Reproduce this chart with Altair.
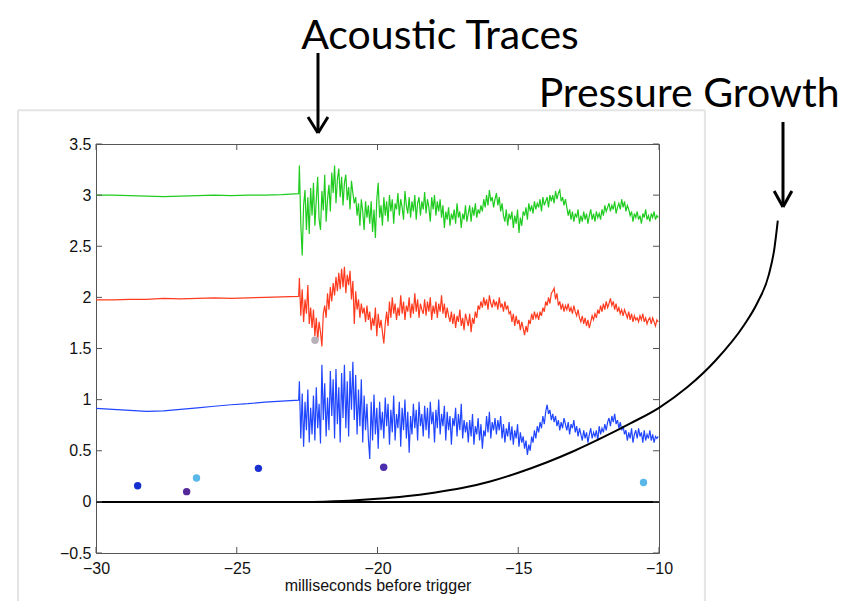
import altair as alt
import pandas as pd

# ---------------- data ----------------
quiet_x = [-30.0, -29.4, -28.8, -28.2, -27.6, -27.0, -26.4, -25.8, -25.2, -24.6, -24.0, -23.4, -22.8]
green_quiet = [3.00, 3.00, 2.995, 2.99, 2.985, 2.99, 2.995, 3.00, 2.995, 3.00, 3.00, 3.005, 3.015]
red_quiet = [1.975, 1.975, 1.98, 1.98, 1.99, 1.985, 1.99, 1.995, 1.99, 1.995, 2.00, 2.005, 2.01]
blue_quiet = [0.915, 0.905, 0.895, 0.885, 0.89, 0.905, 0.92, 0.935, 0.95, 0.96, 0.975, 0.985, 0.995]

# sample times of the noisy part (every 0.05 ms)
noisy_x = [round(-22.775 + 0.05 * k, 3) for k in range(256)]

green_noisy = [
    3.29, 2.72, 2.41, 2.90, 3.05, 2.66, 2.98, 2.62, 3.07, 2.80,
    3.12, 2.70, 2.95, 3.18, 2.76, 2.66, 3.04, 2.85, 3.20, 2.74,
    2.96, 3.10, 2.84, 3.22, 3.02, 3.29, 2.92, 3.15, 3.26, 2.98,
    3.18, 2.90, 3.12, 3.20, 2.95, 3.08, 2.86, 3.14, 3.02, 2.92,
    2.98, 2.80, 2.92, 2.70, 2.96, 2.84, 2.66, 2.94, 2.78, 2.90,
    2.72, 2.94, 2.64, 2.86, 2.58, 2.96, 3.12, 2.78, 2.90, 2.70,
    2.98, 2.80, 2.94, 2.74, 3.00, 2.84, 2.96, 2.72, 2.92, 2.86,
    3.02, 2.80, 2.96, 2.88, 2.76, 3.04, 2.90, 2.82, 2.98, 2.78,
    2.94, 2.84, 3.00, 2.76, 2.92, 2.98, 2.80, 2.94, 2.86, 3.03,
    2.82, 2.96, 2.88, 2.74, 2.98, 2.86, 3.00, 2.80, 2.94, 2.84,
    2.96, 2.78, 2.90, 2.68, 2.84, 2.76, 2.88, 2.70, 2.82, 2.76,
    2.86, 2.72, 2.92, 2.78, 2.84, 2.68, 2.82, 2.76, 2.90, 2.74,
    2.82, 2.90, 2.74, 2.88, 2.80, 2.92, 2.78, 2.86, 2.82, 2.90,
    2.84, 2.96, 2.88, 3.00, 2.90, 3.05, 2.94, 2.98, 2.88, 2.96,
    3.02, 2.90, 2.98, 2.84, 2.92, 2.80, 2.74, 2.86, 2.70, 2.82,
    2.76, 2.84, 2.68, 2.80, 2.72, 2.86, 2.63, 2.78, 2.70, 2.84,
    2.80, 2.88, 2.76, 2.92, 2.84, 2.90, 2.82, 2.94, 2.86, 2.92,
    2.88, 2.96, 2.84, 2.98, 2.90, 2.94, 2.98, 2.88, 3.00, 2.94,
    3.00, 2.92, 3.04, 2.96, 3.02, 3.05, 2.94, 2.98, 2.90, 2.96,
    2.88, 2.80, 2.86, 2.76, 2.84, 2.74, 2.82, 2.78, 2.86, 2.72,
    2.80, 2.74, 2.84, 2.76, 2.82, 2.72, 2.80, 2.86, 2.76, 2.82,
    2.74, 2.84, 2.78, 2.82, 2.76, 2.86, 2.80, 2.90, 2.84, 2.88,
    2.92, 2.84, 2.90, 2.86, 2.94, 2.82, 2.88, 2.92, 2.86, 2.96,
    2.88, 2.94, 2.84, 2.90, 2.86, 2.80, 2.84, 2.74, 2.82, 2.78,
    2.84, 2.76, 2.80, 2.72, 2.82, 2.78, 2.86, 2.76, 2.80, 2.74,
    2.82, 2.78, 2.84, 2.76, 2.80, 2.78,
]
red_noisy = [
    2.19, 1.82, 2.08, 1.76, 1.98, 1.84, 2.12, 1.74, 1.90, 1.70,
    1.88, 1.62, 1.80, 1.58, 1.76, 1.66, 1.52, 1.84, 1.92, 1.80,
    2.04, 1.88, 2.10, 1.96, 2.14, 2.02, 2.20, 2.06, 2.24, 2.08,
    2.28, 2.10, 2.30, 2.04, 2.22, 2.12, 2.26, 1.98, 2.16, 1.74,
    2.06, 1.88, 1.98, 1.80, 1.94, 1.84, 1.90, 1.76, 1.92, 1.78,
    1.86, 1.68, 1.80, 1.72, 1.90, 1.62, 1.84, 1.70, 1.78, 1.66,
    1.55, 1.74, 1.86, 1.72, 1.96, 1.80, 2.00, 1.84, 1.94, 1.78,
    1.90, 1.82, 2.02, 1.84, 1.96, 1.78, 1.92, 1.86, 2.00, 1.80,
    1.94, 1.84, 2.04, 1.86, 1.98, 1.80, 1.94, 1.88, 1.84, 1.98,
    1.82, 1.96, 1.86, 2.00, 1.78, 1.92, 1.84, 1.96, 1.80, 1.94,
    1.86, 2.02, 1.84, 1.94, 1.80, 1.90, 1.82, 1.76, 1.86, 1.74,
    1.84, 1.70, 1.82, 1.76, 1.88, 1.72, 1.80, 1.68, 1.84, 1.78,
    1.72, 1.84, 1.66, 1.80, 1.74, 1.86, 1.80, 1.92, 1.88, 1.96,
    1.90, 2.00, 1.92, 1.98, 1.88, 2.02, 1.94, 1.90, 1.98, 1.92,
    1.96, 1.88, 2.00, 1.90, 1.94, 1.86, 1.96, 1.88, 1.92, 1.84,
    1.86, 1.76, 1.84, 1.72, 1.82, 1.74, 1.78, 1.68, 1.76, 1.70,
    1.63, 1.72, 1.66, 1.78, 1.74, 1.84, 1.78, 1.86, 1.80, 1.84,
    1.78, 1.86, 1.82, 1.90, 1.86, 1.96, 1.92, 2.00, 1.94, 2.04,
    2.06, 2.09, 1.98, 2.04, 1.92, 1.96, 1.88, 1.94, 1.86, 1.92,
    1.88, 1.94, 1.86, 1.90, 1.84, 1.92, 1.86, 1.82, 1.88, 1.80,
    1.76, 1.82, 1.74, 1.80, 1.72, 1.78, 1.70, 1.76, 1.82, 1.78,
    1.84, 1.80, 1.88, 1.84, 1.92, 1.86, 1.94, 1.88, 1.96, 1.90,
    1.94, 1.99, 1.92, 1.96, 1.88, 1.94, 1.86, 1.90, 1.84, 1.88,
    1.82, 1.88, 1.84, 1.80, 1.86, 1.78, 1.84, 1.76, 1.82, 1.78,
    1.80, 1.76, 1.82, 1.78, 1.84, 1.76, 1.80, 1.74, 1.78, 1.80,
    1.74, 1.80, 1.76, 1.72, 1.78, 1.76,
]
blue_noisy = [
    1.18, 0.62, 1.06, 0.54, 0.98, 0.70, 1.10, 0.58, 0.92, 0.66,
    1.04, 0.60, 1.12, 0.72, 0.96, 0.57, 1.34, 0.80, 1.16, 0.64,
    1.02, 0.70, 1.28, 0.84, 1.20, 0.62, 1.30, 0.76, 1.12, 0.58,
    1.26, 0.82, 1.34, 0.72, 1.18, 0.64, 1.28, 0.90, 1.37, 0.80,
    1.24, 0.66, 1.10, 0.74, 1.20, 0.58, 1.04, 0.70, 0.96, 0.62,
    0.42, 0.98, 0.60, 1.05, 0.66, 0.92, 0.52, 0.98, 0.70, 0.88,
    0.62, 1.02, 0.74, 0.96, 0.56, 0.90, 0.68, 1.04, 0.60, 0.86,
    0.72, 0.98, 0.54, 0.92, 0.70, 1.00, 0.62, 0.88, 0.48, 0.84,
    0.66, 0.96, 0.72, 0.90, 0.60, 0.98, 0.74, 0.86, 0.64, 0.94,
    0.70, 0.92, 0.62, 0.98, 0.76, 0.88, 0.58, 0.90, 0.72, 1.00,
    0.66, 0.86, 0.74, 0.94, 0.60, 0.88, 0.70, 0.84, 0.56, 0.82,
    0.74, 0.92, 0.64, 0.86, 0.70, 0.96, 0.62, 0.80, 0.68, 0.78,
    0.58, 0.80, 0.64, 0.86, 0.56, 0.74, 0.66, 0.82, 0.60, 0.76,
    0.52, 0.70, 0.64, 0.84, 0.68, 0.88, 0.62, 0.78, 0.70, 0.82,
    0.66, 0.80, 0.70, 0.84, 0.62, 0.76, 0.58, 0.72, 0.64, 0.78,
    0.60, 0.74, 0.56, 0.70, 0.62, 0.76, 0.54, 0.68, 0.58, 0.64,
    0.52, 0.60, 0.46, 0.56, 0.50, 0.64, 0.58, 0.70, 0.62, 0.74,
    0.68, 0.78, 0.72, 0.84, 0.76, 0.88, 0.95, 0.86, 0.90, 0.80,
    0.86, 0.78, 0.84, 0.74, 0.80, 0.70, 0.78, 0.72, 0.82, 0.76,
    0.70, 0.78, 0.66, 0.76, 0.72, 0.80, 0.68, 0.74, 0.64, 0.72,
    0.66, 0.60, 0.70, 0.62, 0.68, 0.58, 0.66, 0.72, 0.62, 0.68,
    0.64, 0.70, 0.60, 0.74, 0.66, 0.72, 0.68, 0.76, 0.70, 0.78,
    0.82, 0.74, 0.84, 0.78, 0.86, 0.76, 0.80, 0.72, 0.78, 0.70,
    0.74, 0.66, 0.70, 0.60, 0.68, 0.62, 0.72, 0.58, 0.66, 0.70,
    0.62, 0.72, 0.64, 0.68, 0.58, 0.70, 0.60, 0.66, 0.62, 0.70,
    0.60, 0.66, 0.58, 0.64, 0.62, 0.64,
]

# scattered events
event_x = [-28.52, -26.78, -26.43, -24.23, -19.78, -10.55, -22.22]
event_y = [0.158, 0.10, 0.233, 0.328, 0.338, 0.19, 1.58]
event_color = ["#1530d0", "#55289a", "#5ab8e8", "#1a30d0", "#4b2db0", "#5ab8e8", "#b8b0b8"]

# pressure growth curve
pressure_x = [-22.3, -21.0, -20.0, -19.0, -18.0, -17.0, -16.0, -15.0, -14.0, -13.0, -12.0,
              -11.0, -10.0, -9.0, -8.0, -7.0, -6.5, -6.1, -5.9, -5.78]
pressure_y = [0.0, 0.012, 0.03, 0.055, 0.09, 0.135, 0.20, 0.285, 0.385, 0.50, 0.63,
              0.77, 0.92, 1.12, 1.38, 1.72, 1.95, 2.22, 2.48, 2.75]

x_ticks = [-30, -25, -20, -15, -10]
y_ticks = [-0.5, 0, 0.5, 1, 1.5, 2, 2.5, 3, 3.5]

series_names = ["green", "red", "blue"]
series_colors = ["#1fcc1f", "#ff3b1f", "#2046ff"]

# annotations (data coordinates)
labels = ["Acoustic Traces", "Pressure Growth"]
label_x = [-17.78, -8.93]
label_y = [4.43, 3.86]

# ---------------- tables ----------------
rows = []
for name, q, n in zip(series_names, [green_quiet, red_quiet, blue_quiet],
                      [green_noisy, red_noisy, blue_noisy]):
    xs_ = quiet_x + noisy_x
    ys_ = q + n
    for i, (a, b) in enumerate(zip(xs_, ys_)):
        rows.append({"t": a, "v": b, "series": name, "o": i})
traces = pd.DataFrame(rows)

events = pd.DataFrame({"t": event_x, "v": event_y, "c": event_color})
pressure = pd.DataFrame({"t": pressure_x, "v": pressure_y, "o": list(range(len(pressure_x)))})

arrows = pd.DataFrame({
    "x": [-22.114, -22.47, -21.76, -5.595, -5.91, -5.28],
    "x2": [-22.114, -22.114, -22.114, -5.595, -5.595, -5.595],
    "y": [4.39, 3.764, 3.764, 3.715, 3.04, 3.04],
    "y2": [3.608, 3.608, 3.608, 2.884, 2.884, 2.884],
})
shadow = pd.DataFrame({
    "x": [-32.77, -8.37, -32.77],
    "x2": [-32.77, -8.37, -8.37],
    "y": [3.83, 3.83, 3.83],
    "y2": [-1.05, -1.05, 3.83],
})
notes = pd.DataFrame({"label": labels, "x": label_x, "y": label_y})
zero = pd.DataFrame({"x": [-30], "x2": [-10], "y": [0]})
xt = pd.DataFrame({"t": x_ticks})
yt = pd.DataFrame({"v": y_ticks})

W, H = 563, 409
xs = alt.Scale(domain=[-30, -10], nice=False, zero=False)
ys = alt.Scale(domain=[-0.5, 3.5], nice=False, zero=False)

x_axis = alt.Axis(values=x_ticks, format="~f", ticks=False, grid=False, domain=False,
                  labelFlush=False, labelOverlap=False,
                  labelFont="Liberation Sans", labelFontSize=16, labelColor="#111",
                  labelPadding=7, title="milliseconds before trigger",
                  titleFont="Liberation Sans", titleFontSize=16, titleFontWeight="normal",
                  titleColor="#111", titlePadding=1)
y_axis = alt.Axis(values=y_ticks, format="~f", ticks=False, grid=False, domain=False,
                  labelFlush=False, labelOverlap=False,
                  labelFont="Liberation Sans", labelFontSize=16, labelColor="#111",
                  labelPadding=5, title=None)

shadow_l = alt.Chart(shadow).mark_rule(color="#e4e4e4", strokeWidth=2, clip=False).encode(
    x=alt.X("x:Q", scale=xs), x2="x2:Q", y=alt.Y("y:Q", scale=ys), y2="y2:Q")

lines = alt.Chart(traces).mark_line(strokeWidth=1.2, clip=True).encode(
    x=alt.X("t:Q", scale=xs, axis=x_axis),
    y=alt.Y("v:Q", scale=ys, axis=y_axis),
    color=alt.Color("series:N", scale=alt.Scale(domain=series_names, range=series_colors), legend=None),
    detail="series:N",
    order="o:Q",
)

zero_l = alt.Chart(zero).mark_rule(color="black", strokeWidth=2).encode(
    x=alt.X("x:Q", scale=xs), x2="x2:Q", y=alt.Y("y:Q", scale=ys))

press = alt.Chart(pressure).mark_line(color="black", strokeWidth=2, clip=False,
                                      interpolate="monotone").encode(
    x=alt.X("t:Q", scale=xs), y=alt.Y("v:Q", scale=ys), order="o:Q")

pts = alt.Chart(events).mark_circle(size=55, opacity=1).encode(
    x=alt.X("t:Q", scale=xs), y=alt.Y("v:Q", scale=ys), color=alt.Color("c:N", scale=None))

arr = alt.Chart(arrows).mark_rule(color="black", strokeWidth=3, clip=False).encode(
    x=alt.X("x:Q", scale=xs), x2="x2:Q", y=alt.Y("y:Q", scale=ys), y2="y2:Q")

txt = alt.Chart(notes).mark_text(font="Lato", fontSize=41, align="center",
                                 baseline="alphabetic", color="black", clip=False).encode(
    x=alt.X("x:Q", scale=xs), y=alt.Y("y:Q", scale=ys), text="label:N")

tick_c = "#555"
xt_bot = alt.Chart(xt).mark_rule(color=tick_c).encode(
    x=alt.X("t:Q", scale=xs), y=alt.value(H), y2=alt.value(H - 6))
xt_top = alt.Chart(xt).mark_rule(color=tick_c).encode(
    x=alt.X("t:Q", scale=xs), y=alt.value(0), y2=alt.value(6))
yt_l = alt.Chart(yt).mark_rule(color=tick_c).encode(
    y=alt.Y("v:Q", scale=ys), x=alt.value(0), x2=alt.value(6))
yt_r = alt.Chart(yt).mark_rule(color=tick_c).encode(
    y=alt.Y("v:Q", scale=ys), x=alt.value(W), x2=alt.value(W - 6))

chart = alt.layer(shadow_l, lines, zero_l, press, pts, arr, txt,
                  xt_bot, xt_top, yt_l, yt_r).properties(
    width=W, height=H,
    autosize=alt.AutoSizeParams(type="none"),
    padding={"left": 88, "top": 136, "right": 200, "bottom": 48},
    background="white",
).configure_view(stroke="#555", strokeWidth=1)

chart.save("out.html", embed_options={"renderer": "svg", "actions": False})
